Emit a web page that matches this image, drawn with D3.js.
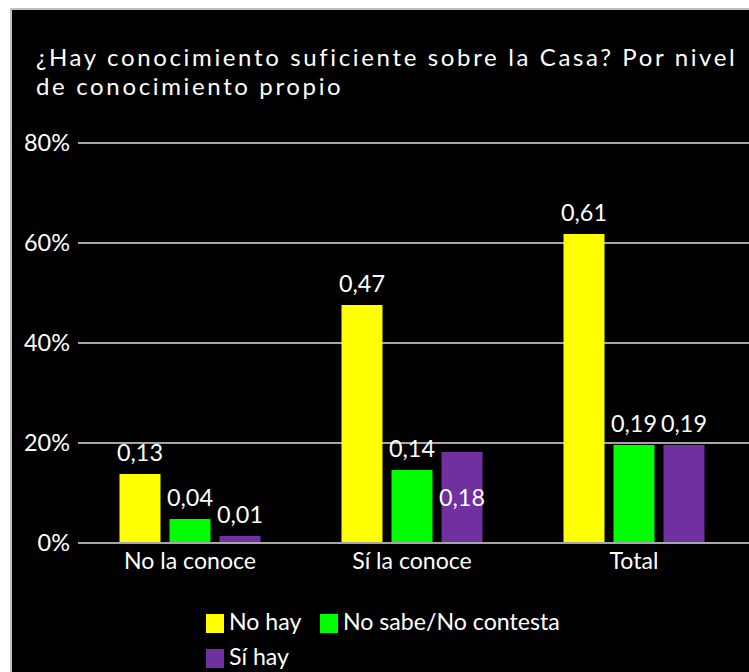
<!DOCTYPE html>
<html>
<head>
<meta charset="utf-8">
<script src="https://cdn.jsdelivr.net/npm/d3@7"></script>
<style>
  html, body { margin: 0; padding: 0; background: #ffffff; }
  svg { display: block; }
  text { font-family: Lato, "Open Sans", sans-serif; fill: #ffffff; }
</style>
</head>
<body>
<svg id="chart" width="749" height="672"></svg>
<script>
// ---- data ----
const categories = ["No la conoce", "Sí la conoce", "Total"];
const seriesNames = ["No hay", "No sabe/No contesta", "Sí hay"];
const noHay = [0.138, 0.476, 0.618];
const noSabe = [0.048, 0.146, 0.196];
const siHay = [0.014, 0.182, 0.196];
const yTicks = [0, 0.2, 0.4, 0.6, 0.8];
const titleLines = ["¿Hay conocimiento suficiente sobre la Casa? Por nivel", "de conocimiento propio"];
const seriesColors = ["#ffff00", "#00ff00", "#7030a0"];

const seriesValues = [noHay, noSabe, siHay];

const svg = d3.select("#chart");

// background panel
svg.append("rect")
  .attr("x", 11).attr("y", 9)
  .attr("width", 800).attr("height", 700)
  .attr("fill", "#000000")
  .attr("stroke", "#c0c0c0").attr("stroke-width", 2);

// helper to fit text to a target width
function measure(str, size) {
  const t = svg.append("text").attr("font-size", size).text(str);
  const w = t.node().getComputedTextLength();
  t.remove();
  return w;
}
function fitSize(str, target, base) {
  return base * target / measure(str, base);
}

const titleSize = 24;
const titleSpacing = Math.max(0, (701 - measure(titleLines[0], titleSize)) / titleLines[0].length);
const tickSize = fitSize("80%", 46, 20);
const catSize = fitSize("No la conoce", 132, 20);
const labelSize = fitSize("0,13", 46, 20);
const legendSize = fitSize("No sabe/No contesta", 217, 20);

// title
svg.append("g").selectAll("text")
  .data(titleLines)
  .join("text")
  .attr("x", 36)
  .attr("y", (d, i) => 66 + i * 29)
  .attr("font-size", titleSize)
  .attr("letter-spacing", titleSpacing)
  .text(d => d);

// scales
const x0 = d3.scaleBand().domain(categories).range([79, 745]).padding(0);
const x1 = d3.scaleBand().domain(seriesNames).range([-70.5, 70.5]).paddingInner(0.18).paddingOuter(0);
const y = d3.scaleLinear().domain([0, 0.8]).range([543, 143]);

// gridlines
svg.append("g").selectAll("line")
  .data(yTicks)
  .join("line")
  .attr("x1", 78).attr("x2", 749)
  .attr("y1", d => y(d)).attr("y2", d => y(d))
  .attr("stroke", "#a6a6a6").attr("stroke-width", 2);

// y axis labels
const fmtPct = d3.format(".0%");
svg.append("g").selectAll("text")
  .data(yTicks)
  .join("text")
  .attr("x", 70)
  .attr("y", d => y(d))
  .attr("dy", "0.35em")
  .attr("text-anchor", "end")
  .attr("font-size", tickSize)
  .text(d => fmtPct(d));

// bars
const flat = [];
categories.forEach((c, i) => {
  seriesNames.forEach((s, j) => {
    flat.push({ cat: c, ser: s, si: j, v: seriesValues[j][i] });
  });
});

const cx = d => x0(d.cat) + x0.bandwidth() / 2 + x1(d.ser);

svg.append("g").selectAll("rect")
  .data(flat)
  .join("rect")
  .attr("x", d => cx(d))
  .attr("width", x1.bandwidth())
  .attr("y", d => y(d.v))
  .attr("height", d => y(0) - y(d.v))
  .attr("fill", d => seriesColors[d.si]);

// redraw baseline over bars
svg.append("line")
  .attr("x1", 78).attr("x2", 749)
  .attr("y1", y(0)).attr("y2", y(0))
  .attr("stroke", "#a6a6a6").attr("stroke-width", 2);

// value labels
const fmtVal = v => (Math.floor(v * 100 + 1e-9) / 100).toFixed(2).replace(".", ",");
const inside = d => d.cat === "Sí la conoce" && d.ser === "Sí hay";
svg.append("g").selectAll("text")
  .data(flat)
  .join("text")
  .attr("x", d => cx(d) + x1.bandwidth() / 2)
  .attr("y", d => inside(d) ? (y(d.v) + y(0)) / 2 : y(d.v) - 13)
  .attr("dy", d => inside(d) ? "0.35em" : 0)
  .attr("text-anchor", "middle")
  .attr("font-size", labelSize)
  .text(d => fmtVal(d.v));

// category labels
svg.append("g").selectAll("text")
  .data(categories)
  .join("text")
  .attr("x", d => x0(d) + x0.bandwidth() / 2)
  .attr("y", 569)
  .attr("text-anchor", "middle")
  .attr("font-size", catSize)
  .text(d => d);

// legend
const legendPos = [
  { x: 206, y: 614 },
  { x: 320, y: 614 },
  { x: 206, y: 649 }
];
const lg = svg.append("g").selectAll("g")
  .data(seriesNames)
  .join("g")
  .attr("transform", (d, i) => `translate(${legendPos[i].x},${legendPos[i].y})`);
lg.append("rect")
  .attr("width", 18).attr("height", 19)
  .attr("fill", (d, i) => seriesColors[i]);
lg.append("text")
  .attr("x", 23).attr("y", 16)
  .attr("font-size", legendSize)
  .text(d => d);
</script>
</body>
</html>
